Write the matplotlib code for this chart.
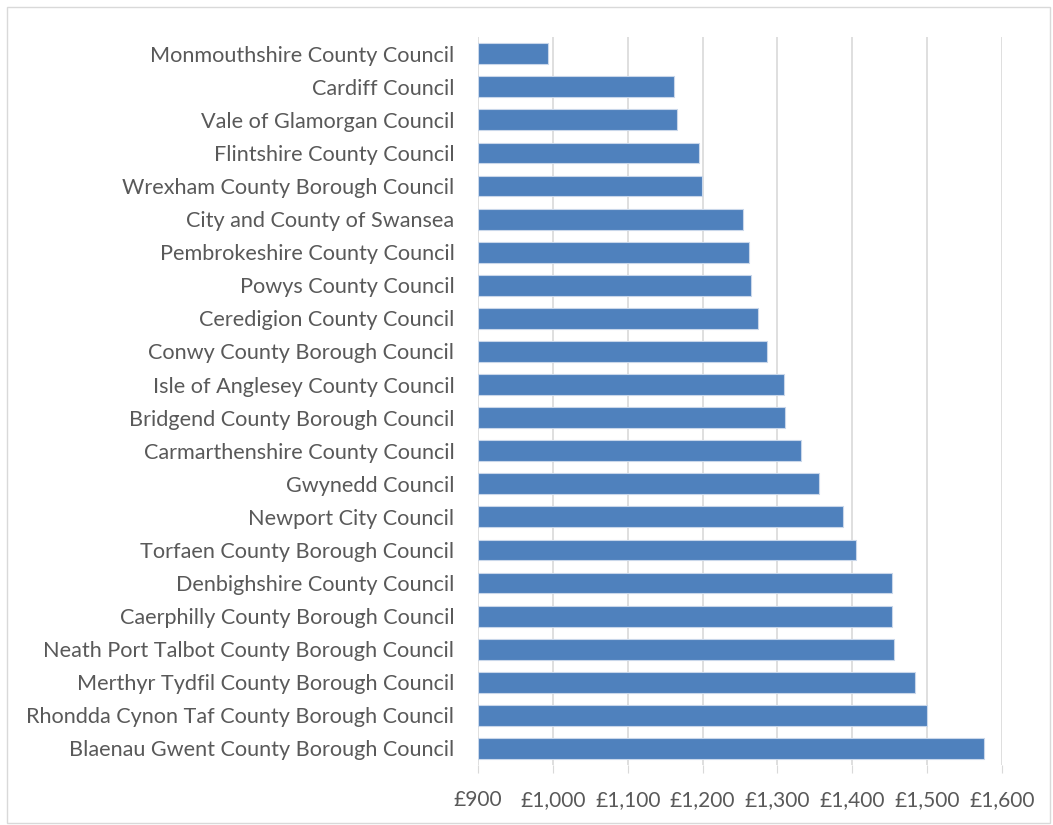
import matplotlib.pyplot as plt
from matplotlib.patches import Rectangle
from matplotlib.ticker import FuncFormatter

councils = [
    "Monmouthshire County Council",
    "Cardiff Council",
    "Vale of Glamorgan Council",
    "Flintshire County Council",
    "Wrexham County Borough Council",
    "City and County of Swansea",
    "Pembrokeshire County Council",
    "Powys County Council",
    "Ceredigion County Council",
    "Conwy County Borough Council",
    "Isle of Anglesey County Council",
    "Bridgend County Borough Council",
    "Carmarthenshire County Council",
    "Gwynedd Council",
    "Newport City Council",
    "Torfaen County Borough Council",
    "Denbighshire County Council",
    "Caerphilly County Borough Council",
    "Neath Port Talbot County Borough Council",
    "Merthyr Tydfil County Borough Council",
    "Rhondda Cynon Taf County Borough Council",
    "Blaenau Gwent County Borough Council",
]
values = [994, 1162, 1166, 1195, 1199, 1254, 1262, 1265, 1274, 1286, 1309,
          1310, 1331, 1355, 1388, 1405, 1453, 1453, 1456, 1484, 1500, 1576]
xticks = [900, 1000, 1100, 1200, 1300, 1400, 1500, 1600]

plt.rcParams['font.family'] = ['Lato', 'DejaVu Sans']
grey = "#595959"

fig = plt.figure(figsize=(10.53, 8.25), dpi=100)
fig.patches.append(Rectangle((0.007, 0.003), 0.99, 0.989, transform=fig.transFigure,
                             fill=False, edgecolor="#d9d9d9", linewidth=1))
ax = fig.add_axes([0.454, 0.0727, 0.4976, 0.8823])

pos = list(range(len(councils)))
ax.barh(pos, [v - 900 for v in values], left=900, height=0.63,
        color="#4f81bd", edgecolor="#c9d7ea", linewidth=0.8, zorder=3)

ax.set_ylim(len(councils) - 0.5, -0.5)
ax.set_xlim(900, 1600)
ax.set_yticks(pos)
ax.set_yticklabels(councils, fontsize=15.6, color=grey)
ax.set_xticks(xticks)
ax.xaxis.set_major_formatter(FuncFormatter(lambda v, p: "£{:,.0f}".format(v)))
ax.tick_params(axis='x', labelsize=15, labelcolor=grey, color="#d9d9d9",
               length=6, pad=12)
ax.tick_params(axis='y', length=0, pad=17)
ax.grid(axis='x', color="#d9d9d9", linewidth=1.2, zorder=0)
for s in ax.spines.values():
    s.set_visible(False)

fig.savefig("out.png", dpi=100)
